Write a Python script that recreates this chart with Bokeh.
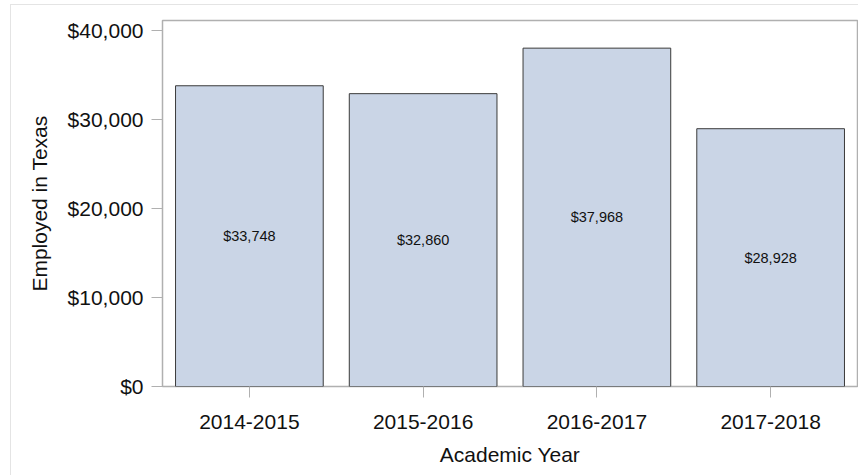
from bokeh.plotting import figure
from bokeh.models import ColumnDataSource, FactorRange, Range1d, NumeralTickFormatter, FixedTicker
from bokeh.core.properties import value
from bokeh.embed import file_html
from bokeh.resources import INLINE

years = ["2014-2015", "2015-2016", "2016-2017", "2017-2018"]
earnings = [33748, 32860, 37968, 28928]
y_ticks = [0, 10000, 20000, 30000, 40000]

labels = ["${:,}".format(v) for v in earnings]
mid = [v / 2 for v in earnings]
src = ColumnDataSource(dict(x=years, top=earnings, mid=mid, label=labels))

FONT = "Liberation Sans"

p = figure(x_range=FactorRange(*years, range_padding=0), y_range=Range1d(0, 41070),
           width=848, height=471, output_backend="svg", toolbar_location=None,
           min_border_left=151, min_border_top=15, min_border_right=2, min_border_bottom=90)
p.margin = (4, 0, 0, 10)
p.styles = {"border-left": "1px solid #e4e4e4", "border-top": "1px solid #e4e4e4"}

p.vbar(x="x", top="top", width=0.85, source=src, fill_color="#cad5e6",
       line_color="#3a3a3a", line_width=1)
p.text(x="x", y="mid", text="label", source=src, text_align="center", text_baseline="middle",
       text_font=value(FONT), text_font_size="14.5px", text_color="#111111")

p.xgrid.visible = False
p.ygrid.visible = False
p.outline_line_color = "#b0b0b0"
p.outline_line_width = 1.5

p.yaxis.ticker = FixedTicker(ticks=y_ticks)
p.yaxis.formatter = NumeralTickFormatter(format="$0,0")
for ax in (p.xaxis[0], p.yaxis[0]):
    ax.axis_line_color = None
    ax.major_tick_line_color = "#b0b0b0"
    ax.major_tick_out = 11
    ax.major_tick_in = 0
    ax.minor_tick_line_color = None
    ax.major_label_text_font = FONT
    ax.major_label_text_font_size = "21px"
    ax.major_label_text_color = "#111111"
    ax.axis_label_text_font = FONT
    ax.axis_label_text_font_size = "21px"
    ax.axis_label_text_font_style = "normal"
    ax.axis_label_text_color = "#111111"

p.xaxis.axis_label = "Academic Year"
p.yaxis.axis_label = "Employed in Texas"
p.xaxis.major_label_standoff = 17
p.yaxis.major_label_standoff = 8
p.xaxis.axis_label_standoff = 11
p.yaxis.axis_label_standoff = 14

open("out.html", "w").write(file_html(p, INLINE))
